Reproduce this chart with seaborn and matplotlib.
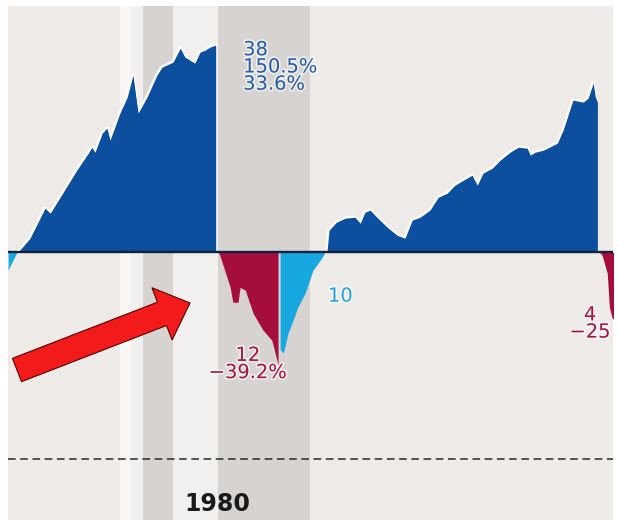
import matplotlib
matplotlib.use("Agg")
import matplotlib.pyplot as plt
import matplotlib.patheffects as pe
from matplotlib.patches import FancyArrow
from matplotlib.transforms import IdentityTransform, blended_transform_factory
import seaborn as sns

# months from the start of the 1978 bull run, % change from the start of each phase
tail_month = [-1.9, -1.0, -0.2]
tail_pct = [-7.7, -3.5, 0.0]

bull1_month = [0.0, 2.3, 5.2, 6.2, 8.1, 11.3, 13.5, 14.2, 14.8, 16.2, 17.1, 17.7,
               19.6, 21.0, 22.1, 23.1, 24.8, 26.7, 27.7, 29.8, 31.2, 32.1, 34.0,
               35.0, 36.0, 36.9, 38.0]
bull1_pct = [0.0, 6.4, 21.6, 18.9, 27.6, 43.9, 55.1, 59.3, 55.8, 69.6, 73.4, 64.4,
             85.3, 98.9, 119.3, 85.3, 98.9, 119.3, 127.2, 132.3, 147.2, 137.5, 131.3,
             142.9, 145.1, 148.3, 150.5]

bear1_month = [38.5, 38.8, 40.8, 41.3, 42.3, 42.7, 43.7, 45.2, 47.1, 48.8, 50.0]
bear1_pct = [0.0, -1.3, -14.4, -19.9, -19.9, -14.4, -15.5, -23.7, -29.2, -32.3, -39.2]

recov_month = [50.4, 51.0, 51.3, 51.9, 52.9, 53.8, 55.2, 56.7, 58.5, 59.0]
recov_pct = [-35.0, -36.1, -34.4, -30.2, -26.0, -21.6, -16.6, -7.7, -2.2, 0.0]

bull2_month = [59.4, 59.8, 61.2, 62.9, 64.8, 65.8, 66.7, 67.7, 69.0, 71.0, 72.9, 74.4,
               75.8, 77.3, 79.2, 80.8, 82.5, 84.0, 85.6, 87.3, 88.3, 89.4, 91.2, 92.7,
               94.6, 96.2, 97.9, 98.5, 99.4, 101.0, 103.7, 104.8, 106.7, 108.7, 109.6,
               110.6, 111.0, 111.4]
bull2_pct = [0.0, 10.2, 14.2, 16.3, 16.8, 13.7, 19.4, 20.5, 16.8, 11.7, 7.8, 6.4,
             15.3, 16.8, 20.5, 27.6, 29.9, 34.6, 37.6, 40.7, 34.6, 42.0, 45.2, 50.4,
             55.8, 59.3, 58.6, 53.8, 55.8, 57.2, 62.2, 71.8, 96.3, 94.6, 98.0,
             111.7, 98.9, 95.0]

bear2_month = [111.8, 112.3, 113.3, 113.7, 114.2, 114.6]
bear2_pct = [0.0, -1.3, -8.9, -21.6, -25.1, -25.8]

# shaded periods (months)
light_band = (21.5, 38.5)
white_stripe = (19.6, 21.5)
gray_bands = [(24.0, 29.8), (38.5, 56.2)]

DARK_BLUE = "#0b4f9e"
CRIMSON = "#a50d3d"
CYAN = "#17a8e2"
BG = "#edeae7"


def ratio(pcts):
    return [1 + p / 100 for p in pcts]


sns.set_theme(style="white")
plt.rcParams["font.family"] = ["DejaVu Sans"]

fig = plt.figure(figsize=(6.18, 5.2), dpi=100)
fig.patch.set_facecolor("white")
ax = fig.add_axes([8 / 618, 0, 605 / 618, 514 / 520])
ax.set_facecolor(BG)
ax.set_yscale("log")
ax.set_ylim(0.305, 2.98)
ax.set_xlim(-1.92, 114.4)

ax.axvspan(*light_band, color="#f2f0ee", lw=0, zorder=0)
ax.axvspan(*white_stripe, color="#f8f7f6", lw=0, zorder=0)
for a, b in gray_bands:
    ax.axvspan(a, b, color="#d6d3d0", lw=0, zorder=0)

ax.axhline(0.4, color="#2a2a2a", lw=1.1, ls=(0, (5, 3)), zorder=1)

segments = [
    (tail_month, tail_pct, CYAN),
    (bull1_month, bull1_pct, DARK_BLUE),
    (bear1_month, bear1_pct, CRIMSON),
    (recov_month, recov_pct, CYAN),
    (bull2_month, bull2_pct, DARK_BLUE),
    (bear2_month, bear2_pct, CRIMSON),
]
for months, pcts, col in segments:
    r = ratio(pcts)
    if col == DARK_BLUE:
        sns.lineplot(x=months, y=r, color="white", lw=2.6, ax=ax, zorder=1.5)
    ax.fill_between(months, 1, r, color=col, lw=0, zorder=2)

ax.axhline(1, color="#14213d", lw=1.7, zorder=4)

halo = [pe.withStroke(linewidth=2.5, foreground="white", alpha=0.6)]
ax.text(43.3, 2.56, "38\n150.5%\n33.6%", color="#2a5ea8", fontsize=14,
        ha="left", va="top", linespacing=0.88, path_effects=halo, zorder=5)
ax.text(59.6, 0.823, "10", color="#27a6dc", fontsize=14, ha="left", va="center",
        path_effects=halo, zorder=5)
ax.text(44.2, 0.66, "12\n\u221239.2%", color="#a3164a", fontsize=14, ha="center",
        va="top", linespacing=0.88, multialignment="center", path_effects=halo, zorder=5)
ax.text(110.0, 0.79, "4\n\u221225", color="#a3164a", fontsize=14, ha="center",
        va="top", linespacing=0.88, multialignment="center", path_effects=halo, zorder=5)

trans = blended_transform_factory(ax.transData, ax.transAxes)
ax.text(38.3, 0.031, "1980", transform=trans, fontsize=17, fontweight="bold",
        color="#1a1a1a", ha="center", va="center", zorder=5)

ax.set_xticks([])
ax.set_yticks([])
ax.minorticks_off()
for s in ax.spines.values():
    s.set_visible(False)

# pointer arrow, in figure pixels
arrow = FancyArrow(17, 150, 173, 67, width=25, head_width=56, head_length=30,
                   length_includes_head=True, fc="#f21a1a", ec="#5a0000", lw=0.8,
                   transform=IdentityTransform(), zorder=10)
fig.add_artist(arrow)

fig.savefig("out.png", dpi=100)
